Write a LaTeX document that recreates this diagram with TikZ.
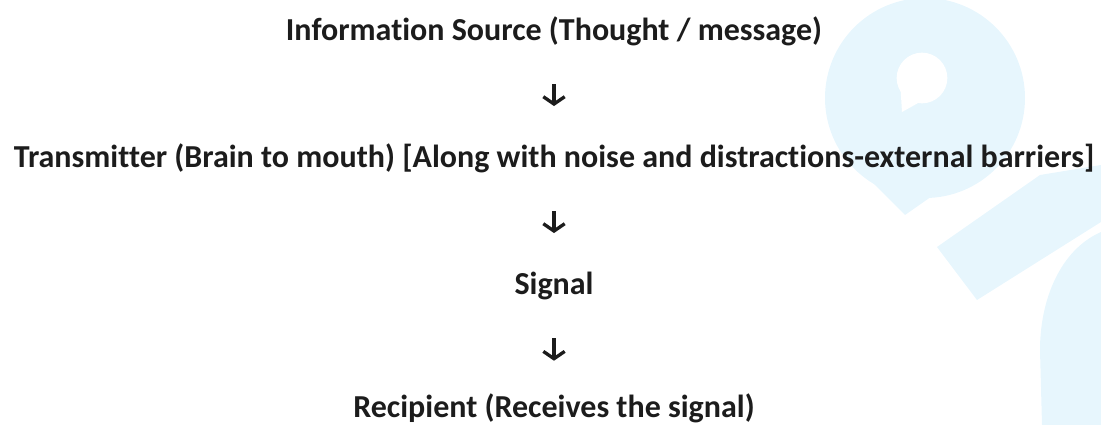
\documentclass[tikz,border=0pt]{standalone}
\usepackage{fontspec}
\setmainfont{Carlito}[Ligatures=NoCommon]
\usetikzlibrary{arrows.meta, positioning}

\definecolor{wmblue}{RGB}{231,246,253}
\definecolor{ink}{RGB}{28,28,28}

\begin{document}
\begin{tikzpicture}[x=0.75pt, y=-0.75pt]
	\tikzstyle{line}=[font=\fontsize{24}{29}\selectfont\bfseries, text=ink, inner sep=0pt, text height=15pt, text depth=5pt, anchor=base]
	\tikzstyle{flow}=[ink, line width=2.5pt, -{Straight Barb[length=5.5pt, width=16pt]}, shorten <=28pt, shorten >=30.5pt]
	\tikzstyle{wm}=[fill=wmblue, draw=none]
	\def\cx{554};
	\def\gap{127};

	\useasboundingbox (0,0) rectangle (1101,425);
	\clip (0,0) rectangle (1101,425);

	% faint logo in the background
	\begin{scope}
		\fill [wm] (925,98) circle [radius=75pt];
		\fill [wm] (850,160) -- (905,215) -- (955,180) -- (900,130) -- cycle;
		\fill [white] (922,78) circle [radius=19pt];
		\fill [white] (900,80) -- (945,88) -- (902,112) -- cycle;
		\fill [wm] (937,247) -- (977,300) -- (1101,222) -- (1101,165) -- (1040,175) -- cycle;
		\fill [wm] (1101,232) .. controls (1060,250) and (1040,300) .. (1040,350) -- (1042,425) -- (1101,425) -- cycle;
	\end{scope}

	% the four steps
	\begin{scope}
		\node [line] (src) at (\cx,40) {Information Source (Thought / message)};
		\node [line] (tx) at (\cx,40+\gap) {Transmitter (Brain to mouth) [Along with noise and distractions-external barriers]};
		\node [line] (sig) at (\cx,40+2*\gap) {Signal};
		\node [line] (rcv) at (\cx,417) {Recipient (Receives the signal)};
	\end{scope}

	\begin{scope}
		\draw [flow] (src) -- (tx);
		\draw [flow] (tx) -- (sig);
		\draw [flow, shorten >=27pt] (sig) -- (rcv);
	\end{scope}
\end{tikzpicture}
\end{document}
